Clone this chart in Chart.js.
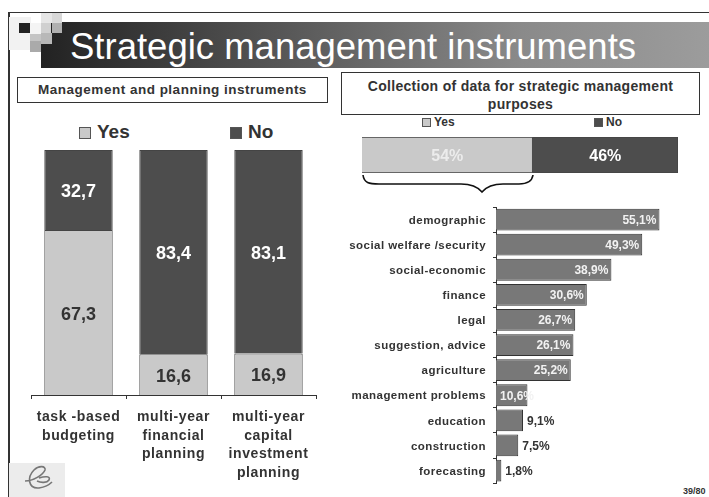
<!DOCTYPE html>
<html><head><meta charset="utf-8">
<script src="https://cdn.jsdelivr.net/npm/chart.js@4"></script>
<style>
html,body{margin:0;padding:0;background:#fff;width:709px;height:497px;overflow:hidden;font-family:"Liberation Sans",Arial,sans-serif}
canvas{position:absolute;left:0;top:0}
.a{position:absolute}
.box{position:absolute;box-sizing:border-box;border:1px solid #333;background:#fff;color:#333;font-weight:bold;text-align:center}
.leg{position:absolute;font-weight:bold;color:#333;white-space:nowrap}
.sw{display:inline-block;box-sizing:border-box;border:1px solid #555}
</style></head><body>
<div class="a" style="left:8px;top:12px;width:710px;height:500px;box-sizing:border-box;border:1px solid #333;border-width:1px 0 0 2px;"></div>
<div class="a" style="left:41px;top:22px;width:668px;height:46px;background:linear-gradient(90deg,#222 0%,#555 35%,#8a8a8a 72%,#9c9c9c 100%)"></div>
<svg class="a" style="left:0;top:0" width="70" height="60">
<rect x="9" y="17" width="22" height="33" fill="#f2f2f2"/><rect x="30" y="23" width="11" height="11" fill="#f4f4f4"/>
<rect x="19" y="23" width="11" height="10" fill="#222"/><rect x="30" y="34" width="11" height="10" fill="#c4c4c4"/>
<rect x="41" y="23" width="10" height="10" fill="#d0d0d0"/><rect x="41" y="13" width="11" height="10" fill="#e6e6e6"/>
<rect x="52" y="13" width="10" height="10" fill="#d8d8d8"/><rect x="52" y="23" width="10" height="10" fill="#b0b0b0"/>
<rect x="41" y="33" width="11" height="11" fill="#b8b8b8"/><rect x="30" y="41" width="11" height="11" fill="#aaa"/>
</svg>
<div class="a" style="left:70px;top:22px;height:46px;line-height:50px;font-size:36.5px;color:#fff;white-space:nowrap">Strategic management instruments</div>
<div class="box" style="left:17px;top:77px;width:311px;height:26px;font-size:13.5px;line-height:24px;letter-spacing:.5px">Management and planning instruments</div>
<div class="box" style="left:341px;top:72px;width:359px;height:43px;font-size:14px;line-height:18px;letter-spacing:.3px;padding:4px 20px 0">Collection of data for strategic management purposes</div>
<div id="legA"></div><div id="legB"></div>
<svg class="a" style="left:355px;top:170px" width="190" height="36"><path d="M8 5 C9 13 14 14 24 14 L106 14 C116 14 122 16 127 22 C132 16 138 14 148 14 L164 14 C172 14 177 12 178 5" fill="none" stroke="#111" stroke-width="1.6"/></svg>
<svg class="a" style="left:9px;top:463px" width="56" height="34"><rect width="56" height="34" fill="#ececec"/><path d="M16 18 C24 18 34 12 36 7 C37 3 30 2 25 7 C18 14 19 26 30 25 C36 24 40 22 43 19 M30 15 C36 13 42 13 40 17 C38 20 32 20 28 18" fill="none" stroke="#777" stroke-width="1.6"/></svg>
<div class="a" style="left:683px;top:486px;font-size:9px;font-weight:bold;color:#333;white-space:nowrap">39/80</div>
<canvas id="c1" width="709" height="497"></canvas>
<canvas id="c2" width="709" height="497"></canvas>
<canvas id="c3" width="709" height="497"></canvas>
<script>
const instruments = [["task -based","budgeting"],["multi-year","financial","planning"],["multi-year","capital","investment","planning"]];
const instrumentYes = [67.3,16.6,16.9];
const instrumentNo = [32.7,83.4,83.1];
const collectionYes = [54];
const collectionNo = [46];
const topics = ["demographic","social welfare /security","social-economic","finance","legal","suggestion, advice","agriculture","management problems","education","construction","forecasting"];
const topicShares = [55.1,49.3,38.9,30.6,26.7,26.1,25.2,10.6,9.1,7.5,1.8];

const FONT='"Liberation Sans", Arial, sans-serif';
const LIGHT='#c9c9c9', DARK='#4d4d4d', MID='#787878', INK='#333333';
Chart.defaults.font.family=FONT;
Chart.defaults.animation=false;
const comma=v=>String(v).replace('.',',');
const spaced=px=>({id:'spaced',beforeDraw(ch){ch.ctx.letterSpacing=px+'px';}});

const stackedLabels=(size,fmt,lightInk,dy)=>({id:'stackedLabels',afterDatasetsDraw(ch){
  const c=ch.ctx;c.save();c.letterSpacing='0px';c.font=`bold ${size}px ${FONT}`;c.textAlign='center';c.textBaseline='middle';
  ch.data.datasets.forEach((d,i)=>{ch.getDatasetMeta(i).data.forEach((el,j)=>{
    const p=el.getCenterPoint();c.fillStyle=i===0?lightInk:'#ffffff';c.fillText(fmt(d.data[j]),p.x,p.y+dy);});});
  c.restore();}});

new Chart(document.getElementById('c1'),{type:'bar',
 data:{labels:instruments,datasets:[
  {label:'Yes',data:instrumentYes,backgroundColor:LIGHT,borderColor:'#444',borderWidth:1,barPercentage:.72,categoryPercentage:1},
  {label:'No',data:instrumentNo,backgroundColor:DARK,borderColor:'#444',borderWidth:1,barPercentage:.72,categoryPercentage:1}]},
 options:{responsive:false,layout:{padding:{left:31,right:393,top:150,bottom:2}},
  plugins:{legend:{display:false},tooltip:{enabled:false}},
  scales:{
   x:{stacked:true,afterFit(s){s.height=100},grid:{drawOnChartArea:false,tickLength:4,color:'#333'},border:{color:'#333'},
      ticks:{color:INK,font:{size:14,weight:'bold',lineHeight:1.33},padding:9,maxRotation:0,autoSkip:false}},
   y:{stacked:true,display:false,min:0,max:100}}},
 plugins:[spaced(.6),stackedLabels(18,comma,INK,2)]});

new Chart(document.getElementById('c2'),{type:'bar',
 data:{labels:['share'],datasets:[
  {label:'Yes',data:collectionYes,backgroundColor:LIGHT,borderColor:'#444',borderWidth:1,barPercentage:1,categoryPercentage:1},
  {label:'No',data:collectionNo,backgroundColor:DARK,borderColor:'#444',borderWidth:1,barPercentage:1,categoryPercentage:1}]},
 options:{indexAxis:'y',responsive:false,layout:{padding:{left:362,right:31,top:137,bottom:324}},
  plugins:{legend:{display:false},tooltip:{enabled:false}},
  scales:{x:{stacked:true,display:false,min:0,max:100},y:{stacked:true,display:false}}},
 plugins:[stackedLabels(16,v=>v+'%','#ececec',2)]});

new Chart(document.getElementById('c3'),{type:'bar',
 data:{labels:topics,datasets:[{label:'share',data:topicShares,backgroundColor:MID,borderColor:'#333',borderWidth:1,barPercentage:.87,categoryPercentage:1}]},
 options:{indexAxis:'y',responsive:false,layout:{padding:{left:336,right:35,top:207,bottom:10}},
  plugins:{legend:{display:false},tooltip:{enabled:false}},
  scales:{
   x:{display:false,min:0,max:60},
   y:{afterFit(s){s.width=160},grid:{drawOnChartArea:false,tickLength:3,color:'#333'},border:{color:'#333'},
      ticks:{color:INK,font:{size:11.5,weight:'bold'},padding:7,labelOffset:1,autoSkip:false}}}},
 plugins:[spaced(.45),{id:'shareLabels',afterDatasetsDraw(ch){
  const c=ch.ctx;c.save();c.letterSpacing='0px';c.textBaseline='middle';c.textAlign='left';
  ch.getDatasetMeta(0).data.forEach((el,i)=>{
    const v=topicShares[i],t=comma(v)+'%';
    c.font=`bold 12px ${FONT}`;
    if(v>10){c.fillStyle='#f2f2f2';
      const w=c.measureText(t).width;c.fillText(t,Math.max(el.x-3-w,el.base+4),el.y+1);}
    else{c.fillStyle=INK;c.fillText(t,el.x+4,el.y+1);}
  });c.restore();}}]});

function legend(id,y,size,box,xs,names,cols,gap){
  document.getElementById(id).innerHTML=names.map((n,i)=>`<div class="leg" style="left:${xs[i]}px;top:${y}px;font-size:${size}px;line-height:${size+2}px"><span class="sw" style="width:${box}px;height:${box}px;background:${cols[i]};margin-right:${gap}px;vertical-align:-1px"></span>${n}</div>`).join('');
}
legend('legA',121,19,12,[79,230],['Yes','No'],[LIGHT,DARK],6);
legend('legB',115,12,9,[422,594],['Yes','No'],[LIGHT,DARK],3);
</script>
</body></html>
